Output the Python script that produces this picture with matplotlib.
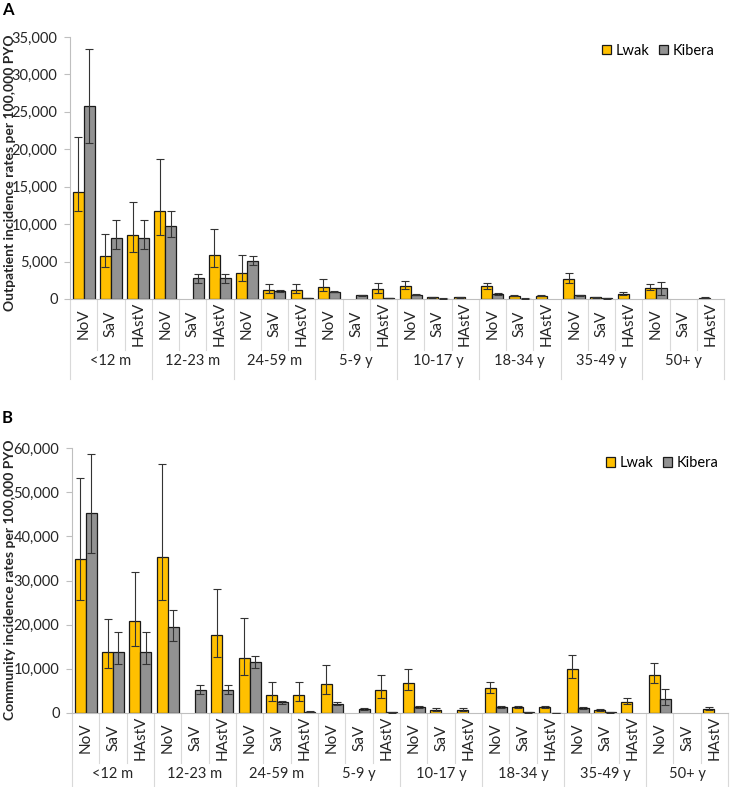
import numpy as np
import matplotlib
matplotlib.use('Agg')
import matplotlib.pyplot as plt
from matplotlib.patches import Patch
from matplotlib.ticker import FuncFormatter, MultipleLocator

plt.rcParams['font.family'] = ['Lato', 'DejaVu Sans']

nan = np.nan

# Category axis
viruses = ['NoV', 'SaV', 'HAstV']
age_groups = ['<12 m', '12-23 m', '24-59 m', '5-9 y', '10-17 y', '18-34 y', '35-49 y', '50+ y']

# Panel A: outpatient incidence (per 100,000 PYO), with 95% CI bounds
lwak_a = [14250, 5750, 8600, 11800, 0, 5930, 3500, 1200, 1200, 1650, 0, 1300,
          1750, 230, 230, 1750, 440, 440, 2680, 230, 660, 1500, 0, 180]
lwak_a_lo = [11800, 4300, 6330, 8500, nan, 4340, 2440, 750, 750, 1080, nan, 780,
             1380, 180, 180, 1400, 370, 370, 2190, 180, 490, 1200, nan, 140]
lwak_a_hi = [21600, 8680, 13000, 18640, nan, 9390, 5930, 2000, 2000, 2650, nan, 2120,
             2370, 290, 290, 2100, 520, 520, 3480, 290, 900, 2000, nan, 230]
kibera_a = [25800, 8100, 8100, 9790, 2750, 2750, 5140, 1120, 160, 990, 500, 100,
            600, 60, 0, 660, 60, 0, 500, 90, 0, 1500, 0, 0]
kibera_a_lo = [20900, 6640, 6640, 8330, 2170, 2170, 4560, 1000, 120, 880, 420, 70,
               540, 40, nan, 590, 40, nan, 440, 60, nan, 560, nan, nan]
kibera_a_hi = [33400, 10500, 10500, 11690, 3280, 3280, 5760, 1250, 200, 1120, 590, 130,
               670, 80, nan, 740, 80, nan, 570, 120, nan, 2300, nan, nan]

# Panel B: community incidence (per 100,000 PYO), with 95% CI bounds
lwak_b = [34900, 13900, 20900, 35300, 0, 17600, 12400, 4170, 4170, 6500, 0, 5150,
          6890, 760, 760, 5750, 1360, 1360, 9860, 760, 2580, 8600, 0, 990]
lwak_b_lo = [25600, 10150, 15200, 25500, nan, 12650, 8640, 2800, 2800, 4400, nan, 3450,
             5150, 530, 530, 4550, 1100, 1100, 7900, 530, 2130, 6820, nan, 760]
lwak_b_hi = [53300, 21300, 31900, 56300, nan, 28100, 21400, 7040, 7040, 10760, nan, 8630,
             9850, 1130, 1130, 7080, 1660, 1660, 13030, 1000, 3490, 11210, nan, 1360]
kibera_b = [45200, 13900, 13900, 19400, 5240, 5240, 11500, 2400, 300, 2130, 870, 150,
            1300, 0, 0, 1370, 150, 50, 1030, 150, 0, 3270, 0, 0]
kibera_b_lo = [36300, 11200, 11200, 16400, 4250, 4250, 10150, 2100, 200, 1770, 700, 100,
               1100, nan, nan, 1150, 100, 30, 800, 100, nan, 1900, nan, nan]
kibera_b_hi = [58600, 18300, 18300, 23400, 6290, 6290, 13000, 2800, 420, 2520, 1050, 220,
               1500, nan, nan, 1600, 220, 80, 1250, 220, nan, 5530, nan, nan]

LWAK_COLOR = '#FFC000'
KIBERA_COLOR = '#929292'
AXIS_GRAY = '#BFBFBF'
TEXT = '#262626'

fig = plt.figure(figsize=(7.3, 7.87), dpi=100)
W, H = 730, 787


def add_axes_px(left, top, right, bottom):
    return fig.add_axes([left / W, 1 - bottom / H, (right - left) / W, (bottom - top) / H])


def draw_series(ax, x, vals, lo, hi, color):
    vals = np.array(vals, float)
    lo = np.array(lo, float)
    hi = np.array(hi, float)
    show = vals > 0
    ax.bar(x[show], vals[show], width=0.4, color=color, edgecolor='#1a1a1a', linewidth=0.9, zorder=2)
    err = ~np.isnan(lo)
    ax.errorbar(x[err], vals[err], yerr=[vals[err] - lo[err], hi[err] - vals[err]],
                fmt='none', ecolor='#333333', elinewidth=0.8, capsize=2.6, capthick=0.8, zorder=3)


def draw_panel(ax, la, la_lo, la_hi, ka, ka_lo, ka_hi, ymax, step, legend_y, cat_px):
    n = len(la)
    idx = np.arange(n)
    draw_series(ax, idx + 0.3, la, la_lo, la_hi, LWAK_COLOR)
    draw_series(ax, idx + 0.7, ka, ka_lo, ka_hi, KIBERA_COLOR)
    ax.set_xlim(0, n)
    ax.set_ylim(0, ymax)
    ax.yaxis.set_major_locator(MultipleLocator(step))
    ax.yaxis.set_major_formatter(FuncFormatter(lambda v, p: f'{v:,.0f}'))
    for s in ['top', 'right']:
        ax.spines[s].set_visible(False)
    for s in ['left', 'bottom']:
        ax.spines[s].set_color(AXIS_GRAY)
        ax.spines[s].set_linewidth(0.8)
    ax.tick_params(axis='y', direction='out', length=4, width=0.8, color=AXIS_GRAY,
                   labelsize=10.5, labelcolor=TEXT, pad=5)
    ax.set_xticks([])

    # two-level category axis
    h_px = ax.get_position().height * H
    cat_y, cat_end, grp_y, grp_end = [-p / h_px for p in cat_px]
    tr = ax.get_xaxis_transform()
    for i in range(n):
        ax.text(i + 0.5, cat_y, viruses[i % 3], transform=tr, rotation=90,
                ha='center', va='center', fontsize=11, color=TEXT)
    for i in range(n + 1):
        end = grp_end if i % 3 == 0 else cat_end
        ax.plot([i, i], [0, end], transform=tr, color='#D9D9D9', lw=0.8, clip_on=False)
    for g, name in enumerate(age_groups):
        ax.text(3 * g + 1.5, grp_y, name, transform=tr, ha='center', va='center',
                fontsize=10.5, color=TEXT)

    handles = [Patch(facecolor=LWAK_COLOR, edgecolor='#1a1a1a', linewidth=0.9),
               Patch(facecolor=KIBERA_COLOR, edgecolor='#1a1a1a', linewidth=0.9)]
    ax.legend(handles, ['Lwak', 'Kibera'], ncol=2, loc='center right',
              bbox_to_anchor=(0.985, legend_y), frameon=False, fontsize=10.5,
              handlelength=0.6, handleheight=0.6, handletextpad=0.3,
              columnspacing=0.7, borderaxespad=0, borderpad=0)


ax_a = add_axes_px(70, 37, 724, 299)
draw_panel(ax_a, lwak_a, lwak_a_lo, lwak_a_hi, kibera_a, kibera_a_lo, kibera_a_hi,
           35000, 5000, 0.947, (25, 51, 62, 80))

ax_b = add_axes_px(72, 448, 728, 713)
draw_panel(ax_b, lwak_b, lwak_b_lo, lwak_b_hi, kibera_b, kibera_b_lo, kibera_b_hi,
           60000, 10000, 0.943, (25, 50, 61, 80))

fig.text(2 / W, 1 - 2 / H, 'A', fontsize=12, fontweight='bold', va='top', ha='left')
fig.text(2 / W, 1 - 410 / H, 'B', fontsize=12, fontweight='bold', va='top', ha='left')

fig.text(10 / W, 1 - 173 / H, 'Outpatient incidence rates per 100,000 PYO', rotation=90,
         ha='center', va='center', fontsize=10, fontweight='bold', color=TEXT)
fig.text(10 / W, 1 - 580 / H, 'Community incidence rates per 100,000 PYO', rotation=90,
         ha='center', va='center', fontsize=10, fontweight='bold', color=TEXT)

fig.savefig('out.png', dpi=100)
